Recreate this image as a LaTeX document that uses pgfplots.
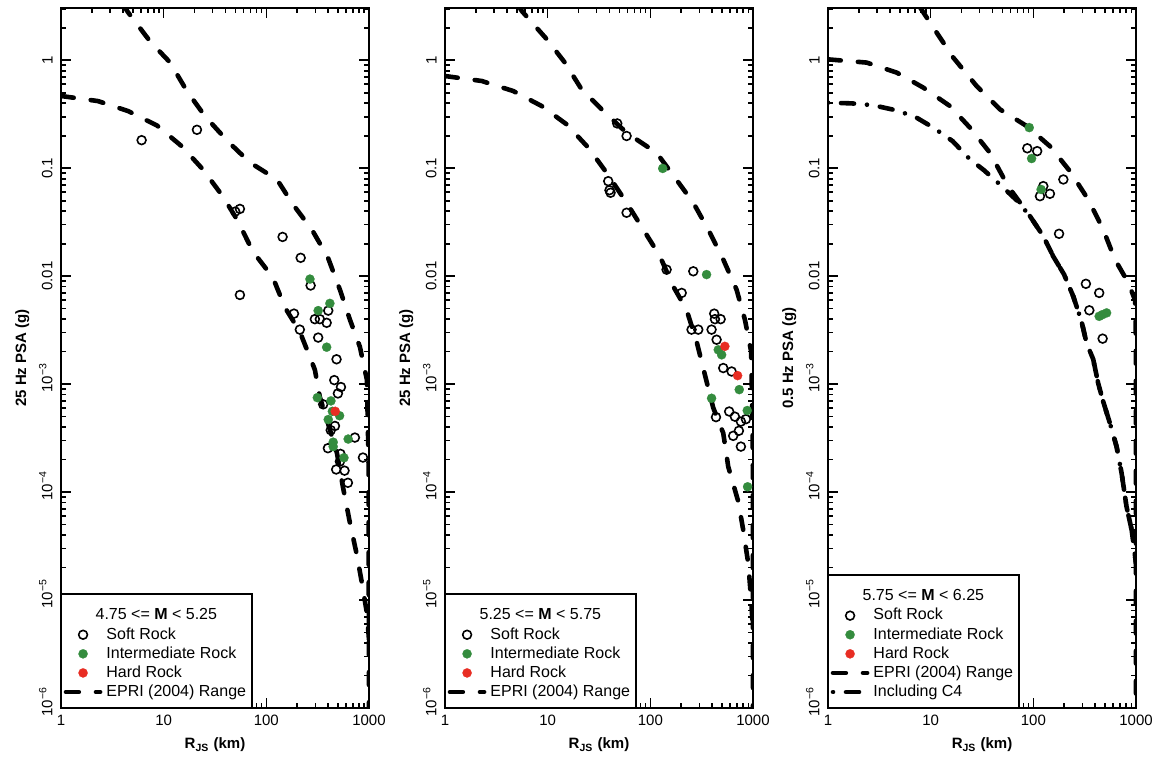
\documentclass[border=0pt]{standalone}
\usepackage{fontspec}
\setmainfont{Liberation Sans}
\usepackage{pgfplots}
\pgfplotsset{compat=1.18}
\definecolor{irock}{RGB}{52,140,62}
\definecolor{hrock}{RGB}{232,45,35}
\newcommand{\ticksize}{\fontsize{7.5}{9}\selectfont}
\newcommand{\labsize}{\fontsize{7.5}{9}\selectfont\bfseries}
\newcommand{\legsize}{\fontsize{8}{9.5}\selectfont}
\tikzset{
  srockmk/.style={only marks, mark=o, mark size=2.2pt, mark options={draw=black, line width=0.8pt}},
  irockmk/.style={only marks, mark=*, mark size=2.3pt, mark options={draw=irock, fill=irock, line width=0.1pt}},
  hrockmk/.style={only marks, mark=*, mark size=2.3pt, mark options={draw=hrock, fill=hrock, line width=0.1pt}},
  eprline/.style={black, line width=2.3pt, line cap=round, dash pattern=on 6.4pt off 8.6pt},
  cfourline/.style={black, line width=2.3pt, line cap=round, dash pattern=on 0.01pt off 6.5pt on 6.5pt off 6.5pt},
}
\pgfplotsset{every axis/.append style={
    width=154pt, height=350pt, scale only axis, axis on top,
    xmin=1, xmax=1000, ymin=1e-6, ymax=3.05,
    xtick={1,10,100,1000}, xticklabels={1,10,100,1000},
    ytick={1e-6,1e-5,1e-4,1e-3,0.01,0.1,1},
    yticklabels={10\rlap{\textsuperscript{−6}},10\rlap{\textsuperscript{−5}},10\rlap{\textsuperscript{−4}},10\rlap{\textsuperscript{−3}},0.01,0.1,1},
    extra x ticks={2,3,4,5,6,7,8,9,20,30,40,50,60,70,80,90,200,300,400,500,600,700,800,900},
    extra x tick labels={},
    extra y ticks={2e-6,3e-6,4e-6,5e-6,6e-6,7e-6,8e-6,9e-6,2e-5,3e-5,4e-5,5e-5,6e-5,7e-5,8e-5,9e-5,2e-4,3e-4,4e-4,5e-4,6e-4,7e-4,8e-4,9e-4,2e-3,3e-3,4e-3,5e-3,6e-3,7e-3,8e-3,9e-3,0.02,0.03,0.04,0.05,0.06,0.07,0.08,0.09,0.2,0.3,0.4,0.5,0.6,0.7,0.8,0.9,2,3},
    extra y tick labels={},
    extra x tick style={tickwidth=2.5pt},
    extra y tick style={tickwidth=2.5pt},
    yticklabel style={rotate=90, anchor=south, font=\ticksize, inner ysep=4pt},
    xticklabel style={font=\ticksize},
    tick align=inside, tickwidth=5pt, subtickwidth=2.5pt,
    major tick style={draw=black, line width=0.8pt},
    minor tick style={draw=black, line width=0.8pt},
    axis line style={line width=0.9pt},
    xlabel={R\textsubscript{JS} (km)},
    xlabel style={at={(axis description cs:0.5,-0.053)}, anchor=center, font=\labsize},
    ylabel style={at={(axis description cs:-0.126,0.5)}, anchor=center, font=\labsize},
    legend style={at={(0,0)}, anchor=south west, draw=black, line width=0.7pt, fill=white,
      font=\legsize, inner xsep=1pt, inner ysep=2pt, row sep=-1.75pt},
    legend cell align=left,
}}
\newcommand{\legtitle}[1]{\hspace*{-19.6pt}\makebox[89.1pt][c]{#1}\rule[-8.7pt]{0pt}{17.7pt}}
\begin{document}
\begin{tikzpicture}
\useasboundingbox (-30.5pt,-24pt) rectangle (549pt,354pt);
% ---------------- panel 1
\begin{loglogaxis}[ylabel={25 Hz PSA (g)}]
\addlegendimage{empty legend}
\addlegendentry{\legtitle{4.75 <= \textbf{M} < 5.25}}
\addlegendimage{srockmk}\addlegendentry{Soft Rock}
\addlegendimage{irockmk}\addlegendentry{Intermediate Rock}
\addlegendimage{hrockmk}\addlegendentry{Hard Rock}
\addlegendimage{eprline}\addlegendentry{EPRI (2004) Range}
\addplot[eprline, no marks, forget plot] coordinates {(4.0,3.3) (4.49,2.79) (7.36,1.50) (11.5,0.958) (16.9,0.516) (25.3,0.303) (42.3,0.177) (69.2,0.113) (127,0.0787) (182,0.0461) (278,0.027) (398,0.0149) (521,0.0075) (652,0.00396) (815,0.00222) (954,0.0011) (990,2e-4) (1000,1e-6)};
\addplot[eprline, no marks, forget plot] coordinates {(1,0.467) (2.29,0.419) (4.49,0.339) (8.6,0.249) (15.1,0.159) (24.1,0.0975) (37.8,0.0547) (51.8,0.0335) (74.1,0.0169) (116,0.0097) (152,0.00512) (212,0.00306) (297,0.00136) (332,7.6e-4) (416,3.8e-4) (487,2.31e-4) (557,1.12e-4) (652,5.2e-5) (763,2.6e-5) (853,1.44e-5) (954,7.6e-6) (1000,4.3e-6)};
\addplot[srockmk, forget plot] coordinates {(6.1,0.182) (21.1,0.227) (49.8,0.0397) (55.3,0.042) (55.3,0.0067) (144,0.0231) (216,0.0148) (270,0.0082) (186,0.0045) (212,0.0032) (297,0.0040) (332,0.0040) (387,0.0037) (401,0.0048) (320,0.0027) (483,0.0017) (459,0.00109) (533,9.4e-4) (498,8.2e-4) (358,6.5e-4) (466,4.1e-4) (424,3.75e-4) (729,3.2e-4) (398,2.55e-4) (527,2.26e-4) (873,2.09e-4) (521,1.92e-4) (479,1.62e-4) (578,1.58e-4) (623,1.22e-4)};
\addplot[irockmk, forget plot] coordinates {(266,0.0094) (320,0.0048) (416,0.0056) (387,0.0022) (314,7.5e-4) (426,7.0e-4) (440,5.6e-4) (401,4.7e-4) (517,5.1e-4) (448,2.9e-4) (627,3.1e-4) (448,2.64e-4) (570,2.08e-4)};
\addplot[hrockmk, forget plot] coordinates {(469,5.6e-4)};
\end{loglogaxis}
% ---------------- panel 2
\begin{loglogaxis}[xshift=192pt, ylabel={25 Hz PSA (g)}]
\addlegendimage{empty legend}
\addlegendentry{\legtitle{5.25 <= \textbf{M} < 5.75}}
\addlegendimage{srockmk}\addlegendentry{Soft Rock}
\addlegendimage{irockmk}\addlegendentry{Intermediate Rock}
\addlegendimage{hrockmk}\addlegendentry{Hard Rock}
\addlegendimage{eprline}\addlegendentry{EPRI (2004) Range}
\addplot[eprline, no marks, forget plot] coordinates {(5.2,3.2) (5.58,2.87) (9.78,1.57) (14.7,0.952) (21.4,0.538) (34.8,0.339) (58.7,0.213) (115,0.139) (174,0.0816) (262,0.0479) (366,0.0271) (513,0.0143) (692,0.0075) (834,0.00396) (960,0.002) (995,3e-4) (1000,1e-6)};
\addplot[eprline, no marks, forget plot] coordinates {(1,0.715) (2.28,0.643) (4.62,0.519) (8.74,0.377) (15.3,0.255) (24.9,0.155) (37.5,0.0908) (58.7,0.0479) (85.3,0.0271) (124,0.0153) (167,0.00806) (225,0.0049) (282,0.00249) (340,0.00122) (410,6.04e-4) (513,3.52e-4) (574,1.72e-4) (718,8.2e-5) (803,4.46e-5) (898,2.2e-5) (955,1.07e-5) (1000,5.3e-6)};
\addplot[srockmk, forget plot] coordinates {(47.6,0.26) (58.7,0.199) (38.9,0.0759) (40,0.0626) (41,0.0593) (58.7,0.0387) (144,0.0115) (262,0.0111) (202,0.0070) (252,0.0032) (293,0.0032) (395,0.0032) (419,0.0045) (426,0.0040) (484,0.0040) (442,0.00258) (513,0.00141) (619,0.00131) (436,4.95e-4) (586,5.58e-4) (666,5.0e-4) (762,4.5e-4) (853,4.74e-4) (729,3.7e-4) (641,3.32e-4) (762,2.64e-4)};
\addplot[irockmk, forget plot] coordinates {(132,0.0996) (353,0.01035) (459,0.00208) (495,0.00187) (735,8.9e-4) (395,7.4e-4) (879,5.7e-4) (886,1.12e-4)};
\addplot[hrockmk, forget plot] coordinates {(532,0.00224) (708,0.0012)};
\end{loglogaxis}
% ---------------- panel 3
\begin{loglogaxis}[xshift=383.5pt, ylabel={0.5 Hz PSA (g)}]
\addlegendimage{empty legend}
\addlegendentry{\legtitle{5.75 <= \textbf{M} < 6.25}}
\addlegendimage{srockmk}\addlegendentry{Soft Rock}
\addlegendimage{irockmk}\addlegendentry{Intermediate Rock}
\addlegendimage{hrockmk}\addlegendentry{Hard Rock}
\addlegendimage{eprline}\addlegendentry{EPRI (2004) Range}
\addlegendimage{cfourline}\addlegendentry{Including C4}
\addplot[eprline, no marks, forget plot] coordinates {(7.87,3.1) (10.6,2.01) (16.6,1.06) (28.0,0.578) (47.3,0.351) (86.1,0.246) (145,0.160) (227,0.094) (342,0.0514) (479,0.0271) (623,0.0143) (839,0.00873) (980,0.006) (995,0.004) (1000,1e-6)};
\addplot[eprline, no marks, forget plot] coordinates {(1,1.02) (2.38,0.952) (4.67,0.769) (8.48,0.558) (15.4,0.377) (24.1,0.238) (37.8,0.139) (56.6,0.0683) (92.7,0.036) (125,0.0235) (156,0.0153) (199,0.0104) (245,0.0065) (295,0.0038) (330,0.0024) (383,0.0017) (428,0.00102) (479,6.9e-4) (557,4.35e-4) (647,2.64e-4) (724,1.5e-4) (809,7.3e-5) (906,4.5e-5) (1000,2.2e-5)};
\addplot[cfourline, no marks, forget plot] coordinates {(1,0.405) (1.70,0.399) (2.76,0.383) (4.49,0.346) (7.03,0.30) (10.6,0.238) (16.4,0.178) (24.1,0.121) (33.0,0.096) (47.3,0.0707) (68.7,0.0506) (92.7,0.036) (125,0.0235) (156,0.0153) (199,0.0104) (245,0.0065) (295,0.0038) (330,0.0024) (383,0.0017) (428,0.00102) (479,6.9e-4) (557,4.35e-4) (647,2.64e-4) (724,1.5e-4) (809,7.3e-5) (906,4.5e-5) (1000,2.2e-5)};
\addplot[srockmk, forget plot] coordinates {(87.3,0.153) (109,0.144) (125,0.0683) (116,0.0551) (145,0.058) (196,0.0787) (178,0.0247) (325,0.0085) (438,0.0070) (351,0.00483) (473,0.00264)};
\addplot[irockmk, forget plot] coordinates {(91.2,0.238) (96.2,0.123) (119,0.0636) (438,0.00425) (470,0.0044) (517,0.00457)};
\end{loglogaxis}
\end{tikzpicture}
\end{document}
